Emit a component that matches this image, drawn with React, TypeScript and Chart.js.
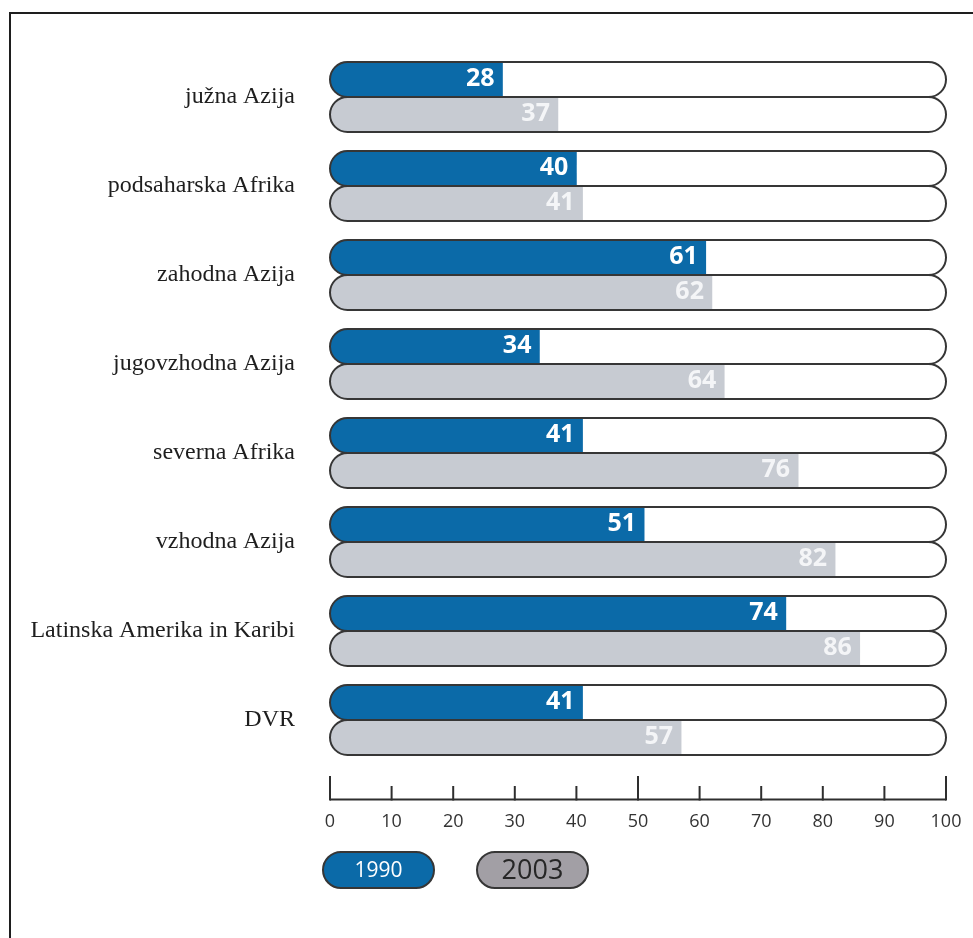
import React, { useEffect, useRef } from "react";
import { Chart, registerables } from "chart.js";

Chart.register(...registerables);

// Regions shown on the vertical axis
const categories: string[] = [
  "južna Azija",
  "podsaharska Afrika",
  "zahodna Azija",
  "jugovzhodna Azija",
  "severna Afrika",
  "vzhodna Azija",
  "Latinska Amerika in Karibi",
  "DVR",
];

// Share in percent, per region
const values1990: number[] = [28, 40, 61, 34, 41, 51, 74, 41];
const values2003: number[] = [37, 41, 62, 64, 76, 82, 86, 57];

const seriesLabels: string[] = ["1990", "2003"];

const axisMin = 0;
const axisMax = 100;
const axisStep = 10;

const BAR_H = 35;
const BLUE = "#0b6aa8";
const GREY = "#c7cbd2";
const LEGEND_GREY = "#a29fa5";
const OUTLINE = "#363636";

function capsulePath(ctx: CanvasRenderingContext2D, left: number, right: number, top: number, bottom: number) {
  const r = (bottom - top) / 2;
  ctx.beginPath();
  ctx.moveTo(left + r, top);
  ctx.lineTo(right - r, top);
  ctx.arc(right - r, top + r, r, -Math.PI / 2, Math.PI / 2);
  ctx.lineTo(left + r, bottom);
  ctx.arc(left + r, top + r, r, Math.PI / 2, (3 * Math.PI) / 2);
  ctx.closePath();
}

// White rounded tracks behind every bar, outlines on top
const trackPlugin = {
  id: "tracks",
  beforeDatasetsDraw(chart: any) {
    const { ctx, scales } = chart;
    const l = scales.x.getPixelForValue(axisMin);
    const r = scales.x.getPixelForValue(axisMax);
    ctx.save();
    ctx.fillStyle = "#ffffff";
    chart.data.datasets.forEach((_: any, i: number) => {
      chart.getDatasetMeta(i).data.forEach((bar: any) => {
        const { y, height } = bar.getProps(["y", "height"], true);
        capsulePath(ctx, l, r, y - height / 2, y + height / 2);
        ctx.fill();
      });
    });
    ctx.restore();
  },
  afterDatasetsDraw(chart: any) {
    const { ctx, scales } = chart;
    const l = scales.x.getPixelForValue(axisMin);
    const r = scales.x.getPixelForValue(axisMax);
    ctx.save();
    ctx.strokeStyle = OUTLINE;
    ctx.lineWidth = 2;
    chart.data.datasets.forEach((_: any, i: number) => {
      chart.getDatasetMeta(i).data.forEach((bar: any) => {
        const { y, height } = bar.getProps(["y", "height"], true);
        capsulePath(ctx, l, r, y - height / 2, y + height / 2);
        ctx.stroke();
      });
    });
    // value labels inside the filled part
    ctx.font = "bold 25px 'Open Sans'";
    ctx.textAlign = "right";
    ctx.textBaseline = "alphabetic";
    chart.data.datasets.forEach((ds: any, i: number) => {
      ctx.fillStyle = i === 0 ? "#ffffff" : "#f4f5f7";
      chart.getDatasetMeta(i).data.forEach((bar: any, j: number) => {
        const { x, y } = bar.getProps(["x", "y"], true);
        ctx.fillText(String(ds.data[j]), x - 8, y + 6);
      });
    });
    ctx.restore();
  },
};

// Axis line with upward tick marks, placed below the bars
const axisPlugin = {
  id: "axisLine",
  afterDraw(chart: any) {
    const { ctx, scales, chartArea } = chart;
    const xs = scales.x;
    const y0 = chartArea.bottom + 35;
    ctx.save();
    ctx.strokeStyle = "#2e2e2e";
    ctx.lineWidth = 2;
    ctx.beginPath();
    ctx.moveTo(xs.getPixelForValue(axisMin), y0);
    ctx.lineTo(xs.getPixelForValue(axisMax), y0);
    ctx.stroke();
    xs.ticks.forEach((t: any) => {
      const px = xs.getPixelForValue(t.value);
      const len = t.value % 50 === 0 ? 23.5 : 13.5;
      ctx.beginPath();
      ctx.moveTo(px, y0 + 1);
      ctx.lineTo(px, y0 - len);
      ctx.stroke();
    });
    ctx.restore();
  },
};

// Pill-shaped legend under the axis
const legendPlugin = {
  id: "pillLegend",
  afterDraw(chart: any) {
    const { ctx, scales, chartArea } = chart;
    const left0 = scales.x.getPixelForValue(axisMin) - 7;
    const top = chartArea.bottom + 87.5;
    const w = 111;
    const h = 36;
    const items = [
      { text: seriesLabels[0], fill: BLUE, color: "#ffffff", font: "21px 'Open Sans'" },
      { text: seriesLabels[1], fill: LEGEND_GREY, color: "#262626", font: "27px 'Open Sans'" },
    ];
    ctx.save();
    items.forEach((it, i) => {
      const left = left0 + i * 154;
      capsulePath(ctx, left, left + w, top, top + h);
      ctx.fillStyle = it.fill;
      ctx.fill();
      ctx.strokeStyle = OUTLINE;
      ctx.lineWidth = 2;
      ctx.stroke();
      ctx.fillStyle = it.color;
      ctx.font = it.font;
      ctx.textAlign = "center";
      ctx.textBaseline = "middle";
      ctx.fillText(it.text, left + w / 2, top + h / 2 + 1);
    });
    ctx.restore();
  },
};

export default function App() {
  const canvasRef = useRef<HTMLCanvasElement | null>(null);

  useEffect(() => {
    if (!canvasRef.current) return;
    const chart = new Chart(canvasRef.current, {
      type: "bar",
      data: {
        labels: categories,
        datasets: [
          {
            label: seriesLabels[0],
            data: values1990,
            backgroundColor: BLUE,
            borderWidth: 0,
            borderSkipped: false,
            borderRadius: { topLeft: BAR_H / 2, bottomLeft: BAR_H / 2, topRight: 0, bottomRight: 0 },
            barThickness: BAR_H,
          },
          {
            label: seriesLabels[1],
            data: values2003,
            backgroundColor: GREY,
            borderWidth: 0,
            borderSkipped: false,
            borderRadius: { topLeft: BAR_H / 2, bottomLeft: BAR_H / 2, topRight: 0, bottomRight: 0 },
            barThickness: BAR_H,
          },
        ],
      },
      options: {
        indexAxis: "y",
        responsive: false,
        animation: false,
        events: [],
        layout: { padding: { left: 0, right: 27, top: 52.5, bottom: 93.5 } },
        plugins: {
          legend: { display: false },
          tooltip: { enabled: false },
        },
        scales: {
          x: {
            min: axisMin,
            max: axisMax,
            // invisible tick marks keep the labels clear of the axis drawn below the bars
            grid: { display: false, drawTicks: true, tickLength: 47 },
            border: { display: false },
            ticks: {
              stepSize: axisStep,
              padding: 0,
              color: "#333333",
              font: { family: "'Open Sans'", size: 18 },
            },
            afterFit(scale: any) {
              scale.height = 80;
            },
          },
          y: {
            grid: { display: false, drawTicks: false },
            border: { display: false },
            ticks: {
              padding: 35,
              color: "#1e1e1e",
              font: { family: "'Liberation Serif'", size: 24 },
            },
            afterFit(scale: any) {
              scale.width = 330;
            },
          },
        },
      } as any,
      plugins: [trackPlugin, axisPlugin, legendPlugin],
    });
    return () => chart.destroy();
  }, []);

  return (
    <div
      style={{
        position: "absolute",
        left: 0,
        top: 0,
        width: 973,
        height: 938,
        overflow: "hidden",
        background: "#ffffff",
      }}
    >
      <div
        style={{
          position: "absolute",
          left: 9,
          top: 12,
          width: 1200,
          height: 1200,
          borderLeft: "2px solid #1e1e1e",
          borderTop: "2px solid #1e1e1e",
        }}
      />
      <canvas
        ref={canvasRef}
        width={973}
        height={938}
        style={{ position: "absolute", left: 0, top: 0, width: 973, height: 938 }}
      />
    </div>
  );
}
